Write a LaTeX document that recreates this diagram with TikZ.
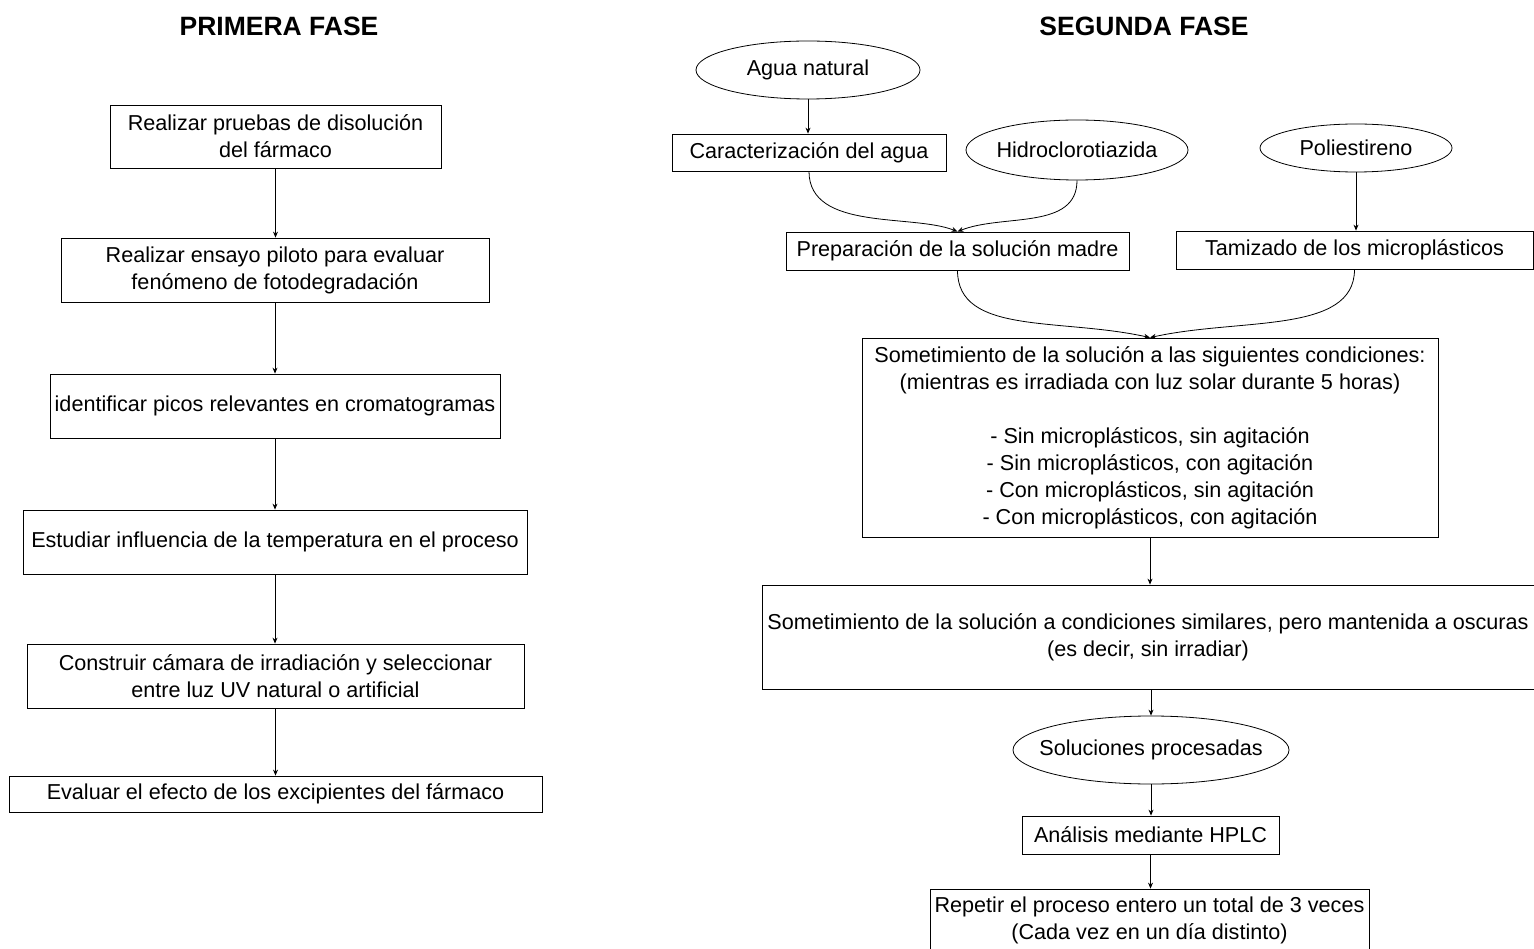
\documentclass[tikz,border=0pt]{standalone}
\usepackage{fontspec}
\setmainfont{Liberation Sans}
\usetikzlibrary{arrows.meta,shapes.geometric}
\newcommand{\bodyfont}{\fontsize{21.6}{27}\selectfont}
\newcommand{\titlefont}{\fontsize{26.5}{30}\selectfont\bfseries}
\newcommand{\zw}[1]{\makebox[0pt]{#1}}
\begin{document}
\begin{tikzpicture}[x=1pt,y=-1pt,
  box/.style={draw, line width=0.8pt, inner sep=0pt, align=center, font=\bodyfont},
  oval/.style={draw, ellipse, line width=0.8pt, inner sep=0pt, align=center, font=\bodyfont},
  ttl/.style={font=\titlefont, inner sep=0pt},
  arr/.style={line width=0.8pt, -{Stealth[length=6pt,width=5pt]}}]
\useasboundingbox (0,0) rectangle (1534,949);
% Titles
\node[ttl] (t1) at (279,26) {PRIMERA FASE};
\node[ttl] (t2) at (1144,26) {SEGUNDA FASE};
% Left column
\node[box, minimum width=331pt, minimum height=63pt] (a1) at (275.5,136.5) {Realizar pruebas de disolución\\del fármaco};
\node[box, minimum width=428pt, minimum height=64pt] (a2) at (275,270) {Realizar ensayo piloto para evaluar\\fenómeno de fotodegradación};
\node[box, minimum width=450pt, minimum height=64pt] (a3) at (275,406) {identificar picos relevantes en cromatogramas};
\node[box, minimum width=504pt, minimum height=64pt] (a4) at (275,542) {Estudiar influencia de la temperatura en el proceso};
\node[box, minimum width=497pt, minimum height=64pt] (a5) at (275.5,676) {Construir cámara de irradiación y seleccionar\\entre luz UV natural o artificial};
\node[box, minimum width=533pt, minimum height=36pt] (a6) at (275.5,794) {Evaluar el efecto de los excipientes del fármaco};
\draw[arr] (a1.south) -- (a1.south |- a2.north);
\draw[arr] (a2.south) -- (a2.south |- a3.north);
\draw[arr] (a3.south) -- (a3.south |- a4.north);
\draw[arr] (a4.south) -- (a4.south |- a5.north);
\draw[arr] (a5.south) -- (a5.south |- a6.north);
% Right column
\node[oval, minimum width=224pt, minimum height=58pt] (agua) at (808,70) {\zw{Agua natural}};
\node[box, minimum width=274pt, minimum height=37pt] (carac) at (809,152.5) {Caracterización del agua};
\node[oval, minimum width=222pt, minimum height=60pt] (hidro) at (1077,150) {\zw{Hidroclorotiazida}};
\node[oval, minimum width=192pt, minimum height=48pt] (poli) at (1356,148) {\zw{Poliestireno}};
\node[box, minimum width=343pt, minimum height=38pt] (prep) at (957.5,251) {Preparación de la solución madre};
\node[box, minimum width=357pt, minimum height=38pt] (tami) at (1354.5,250) {Tamizado de los microplásticos};
\node[box, minimum width=576pt, minimum height=199pt] (some) at (1150,437.5) {Sometimiento de la solución a las siguientes condiciones:\\(mientras es irradiada con luz solar durante 5 horas)\\[27pt]- Sin microplásticos, sin agitación\\- Sin microplásticos, con agitación\\- Con microplásticos, sin agitación\\- Con microplásticos, con agitación};
\node[box, minimum width=772pt, minimum height=104pt] (oscu) at (1148,637) {Sometimiento de la solución a condiciones similares, pero mantenida a oscuras\\(es decir, sin irradiar)};
\node[oval, minimum width=276pt, minimum height=68pt] (proc) at (1151,750) {\zw{Soluciones procesadas}};
\node[box, minimum width=257pt, minimum height=38pt] (hplc) at (1150.5,835) {Análisis mediante HPLC};
\node[box, minimum width=439pt, minimum height=63pt] (rep) at (1149.5,920.5) {Repetir el proceso entero un total de 3 veces\\(Cada vez en un día distinto)};
% Connectors
\draw[arr] (agua.south) -- (agua.south |- carac.north);
\draw[arr] (carac.south) .. controls +(0,60) and +(-45,-18) .. (prep.north);
\draw[arr] (hidro.south) .. controls +(0,50) and +(45,-18) .. (prep.north);
\draw[arr] (poli.south) -- (poli.south |- tami.north);
\draw[arr] (prep.south) .. controls +(0,65) and +(-90,-20) .. (some.north);
\draw[arr] (tami.south) .. controls +(0,65) and +(90,-20) .. (some.north);
\draw[arr] (some.south) -- (some.south |- oscu.north);
\draw[arr] (oscu.south -| proc.south) -- (proc.north);
\draw[arr] (proc.south) -- (proc.south |- hplc.north);
\draw[arr] (hplc.south) -- (hplc.south |- rep.north);
\end{tikzpicture}
\end{document}
